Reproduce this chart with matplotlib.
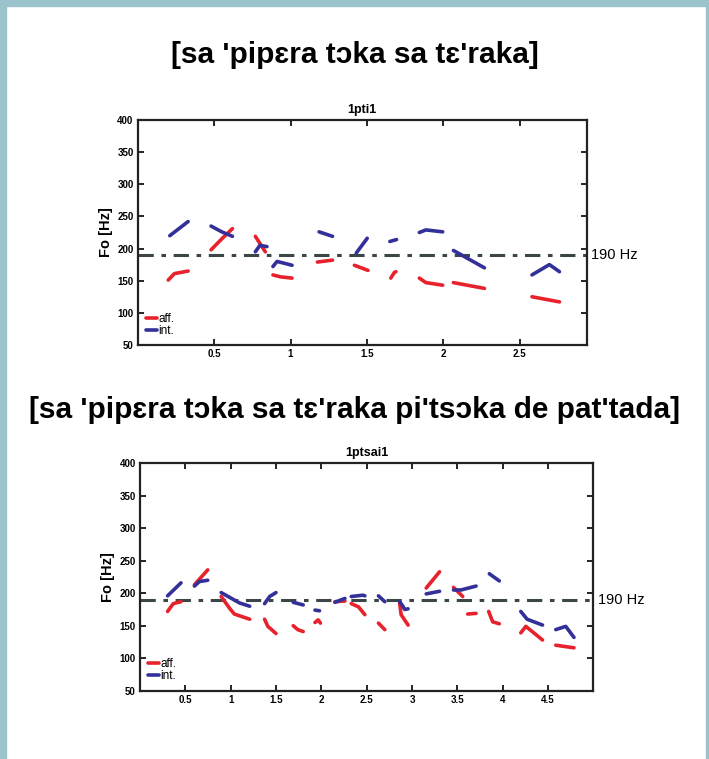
import matplotlib.pyplot as plt
import numpy as np

plt.rcParams['font.family'] = ['Liberation Sans', 'DejaVu Sans']

RED = '#e8222c'
BLUE = '#33309a'
REF_COLOR = '#3b4646'
BORDER = '#9bc3cb'

# ---- data: F0 contour segments (seconds, Hz) ----
top_aff_x = [[0.20, 0.24, 0.33], [0.48, 0.55, 0.62], [0.77, 0.835], [0.885, 0.934, 1.01],
             [1.176, 1.275], [1.418, 1.507], [1.656, 1.68, 1.69], [1.843, 1.886, 1.996],
             [2.066, 2.269], [2.58, 2.76]]
top_aff_y = [[151, 161, 165], [198, 215, 231], [219, 195], [159, 156, 154],
             [179, 182], [174, 166], [154, 163, 164], [154, 147, 143],
             [147, 138], [125, 117]]
top_int_x = [[0.21, 0.33], [0.48, 0.55, 0.62], [0.77, 0.80, 0.846], [0.885, 0.912, 1.01],
             [1.187, 1.275], [1.43, 1.502], [1.65, 1.694], [1.843, 1.886, 1.996],
             [2.066, 2.269], [2.58, 2.694, 2.76]]
top_int_y = [[220, 242], [235, 226, 219], [195, 205, 203], [172, 180, 174],
             [226, 219], [193, 216], [211, 214], [225, 229, 226],
             [197, 170], [159, 175, 164]]

bot_aff_x = [[0.304, 0.367, 0.452], [0.60, 0.747], [0.895, 0.987, 1.04, 1.21],
             [1.374, 1.41, 1.50], [1.69, 1.74, 1.80], [1.93, 1.965, 1.99],
             [2.15, 2.26], [2.33, 2.41, 2.48], [2.63, 2.70], [2.864, 2.88, 2.957],
             [3.157, 3.304], [3.458, 3.56], [3.615, 3.707], [3.846, 3.89, 3.963],
             [4.20, 4.256, 4.44], [4.586, 4.787]]
bot_aff_y = [[172, 184, 187], [213, 236], [195, 177, 168, 160],
             [160, 149, 138], [150, 144, 141], [155, 159, 154],
             [187, 188], [184, 179, 167], [154, 144], [185, 167, 151],
             [208, 233], [209, 195], [168, 169], [172, 156, 153],
             [139, 149, 128], [120, 116]]
bot_int_x = [[0.304, 0.452], [0.60, 0.655, 0.747], [0.895, 1.098, 1.21],
             [1.374, 1.43, 1.50], [1.69, 1.80], [1.93, 1.98],
             [2.15, 2.26], [2.33, 2.46, 2.48], [2.63, 2.70], [2.864, 2.90, 2.92, 2.957],
             [3.157, 3.304], [3.458, 3.54, 3.707], [3.853, 3.963],
             [4.20, 4.27, 4.44], [4.586, 4.696, 4.787]]
bot_int_y = [[196, 216], [211, 218, 220], [201, 185, 180],
             [184, 195, 201], [186, 182], [174, 173],
             [186, 192], [195, 197, 196], [196, 187], [187, 180, 175, 176],
             [199, 203], [205, 205, 211], [230, 219],
             [172, 160, 151], [144, 149, 132]]

REF_HZ = 190
y_ticks = [50, 100, 150, 200, 250, 300, 350, 400]
top_x_ticks = [0.5, 1, 1.5, 2, 2.5]
bot_x_ticks = [0.5, 1, 1.5, 2, 2.5, 3, 3.5, 4, 4.5]

fig = plt.figure(figsize=(7.09, 7.59), dpi=100)

# teal frame on left, top and right edges
fig.patches.append(plt.Rectangle((0, 0), 6 / 709, 1, transform=fig.transFigure,
                                 color=BORDER, zorder=-1))
fig.patches.append(plt.Rectangle((0, 1 - 6 / 759), 1, 6 / 759, transform=fig.transFigure,
                                 color=BORDER, zorder=-1))
fig.patches.append(plt.Rectangle((1 - 3 / 709, 0), 3 / 709, 1, transform=fig.transFigure,
                                 color=BORDER, zorder=-1))


def draw_panel(ax, aff_x, aff_y, int_x, int_y, xmax, xticks, name):
    for i, (xs, ys) in enumerate(zip(aff_x, aff_y)):
        ax.plot(xs, ys, color=RED, lw=2.6, solid_capstyle='round',
                label='aff.' if i == 0 else None)
    for i, (xs, ys) in enumerate(zip(int_x, int_y)):
        ax.plot(xs, ys, color=BLUE, lw=2.6, solid_capstyle='round',
                label='int.' if i == 0 else None)
    ax.axhline(REF_HZ, color=REF_COLOR, lw=2.2, ls=(0, (5, 2.5, 1.5, 2.5)), zorder=1)
    ax.text(1.01, REF_HZ, '190 Hz', transform=ax.get_yaxis_transform(),
            va='center', ha='left', fontsize=10.5)
    ax.set_xlim(0, xmax)
    ax.set_ylim(50, 400)
    ax.set_xticks(xticks)
    ax.set_xticklabels([f'{t:g}' for t in xticks])
    ax.set_yticks(y_ticks)
    ax.tick_params(direction='in', top=True, right=True, length=4, width=1.2,
                   labelsize=7, pad=3)
    for lab in ax.get_xticklabels() + ax.get_yticklabels():
        lab.set_fontweight('bold')
    for sp in ax.spines.values():
        sp.set_linewidth(1.6)
        sp.set_color('#222222')
    ax.set_ylabel('Fo [Hz]', fontsize=10.5, fontweight='bold', labelpad=3)
    ax.set_title(name, fontsize=9, fontweight='bold', pad=5)
    leg = ax.legend(loc='lower left', frameon=False, fontsize=8.5, handlelength=0.9,
                    handletextpad=0.15, labelspacing=0.0, borderaxespad=0.3)
    for h in leg.legend_handles:
        h.set_linewidth(2.6)


ax1 = fig.add_axes([0.1942, 0.5455, 0.6337, 0.2964])
draw_panel(ax1, top_aff_x, top_aff_y, top_int_x, top_int_y, 2.94, top_x_ticks, '1pti1')

ax2 = fig.add_axes([0.1975, 0.0900, 0.6393, 0.2996])
draw_panel(ax2, bot_aff_x, bot_aff_y, bot_int_x, bot_int_y, 5.0, bot_x_ticks, '1ptsai1')

fig.text(0.5, 0.927, "[sa 'pipɛra tɔka sa tɛ'raka]", ha='center', va='center',
         fontsize=21.5, fontweight='bold')
fig.text(0.5, 0.460, "[sa 'pipɛra tɔka sa tɛ'raka pi'tsɔka de pat'tada]", ha='center',
         va='center', fontsize=21.5, fontweight='bold')

fig.savefig('out.png', dpi=100, facecolor='white')
